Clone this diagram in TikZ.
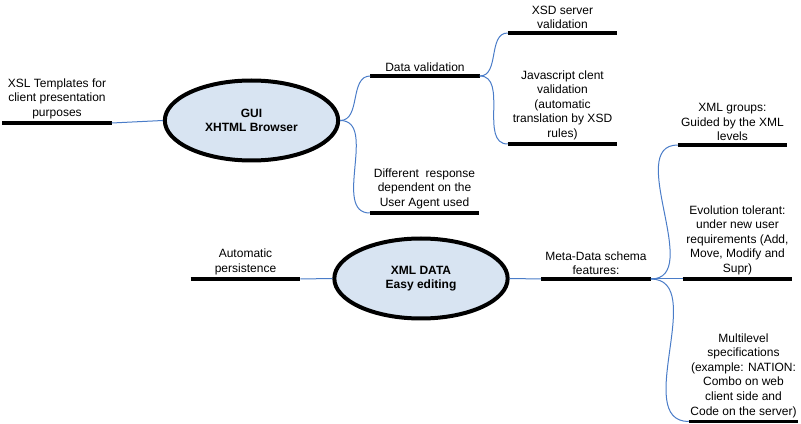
\documentclass[tikz,border=0pt]{standalone}
\usepackage{fontspec}
\setmainfont{Liberation Sans}
\usepackage{tikz}
\usetikzlibrary{shapes.geometric}

\definecolor{linkblue}{RGB}{74,124,200}
\definecolor{ovalfill}{RGB}{216,228,242}

\begin{document}
\begin{tikzpicture}[x=0.75pt,y=0.75pt,yscale=-1,xscale=1,
    topic/.style={anchor=south,minimum width=81.75pt,inner xsep=0pt,inner ysep=2.8pt,align=center,font=\fontsize{9}{10.9}\selectfont},
    bar/.style={line width=2.7pt},
    link/.style={color=linkblue,line width=0.75},
    oval/.style={ellipse,draw,line width=3pt,fill=ovalfill,minimum width=130pt,minimum height=60pt,align=center,font=\fontsize{9}{10.9}\selectfont\bfseries}]
        \useasboundingbox (0,0) rectangle (801,424);

        \node (gui) [oval] at (251.5,120.5) {GUI\\XHTML Browser};
        \node (xml) [oval] at (421,278.5) {XML DATA\\Easy editing};

        \node (xsl) [topic] at (57,123) {XSL Templates for\\client presentation\\purposes};
        \node (dval) [topic] at (425,76) {Data validation};
        \node (diff) [topic] at (424.5,213) {Different\ \ response\\dependent on the\\User Agent used};
        \node (xsd) [topic] at (562.5,33) {XSD server\\validation};
        \node (js) [topic] at (562.5,144) {Javascript clent\\validation\\(automatic\\translation by XSD\\rules)};
        \node (auto) [topic] at (245.5,279) {Automatic\\persistence};
        \node (meta) [topic] at (596,279) {Meta-Data schema\\features:};
        \node (groups) [topic] at (732.5,145) {XML groups:\\Guided by the XML\\levels};
        \node (evol) [topic] at (737.5,279) {Evolution tolerant:\\under new user\\requirements (Add,\\Move, Modify and\\Supr)};
        \node (multi) [topic] at (743.5,421.5) {Multilevel\\specifications\\(example: NATION:\\Combo on web\\client side and\\Code on the server)};

        \foreach \t in {xsl,dval,diff,xsd,js,auto,meta,groups,evol,multi}
            \draw [bar] (\t.south west) -- (\t.south east) ;

        \draw [link] (xsl.south east) -- (gui.west) ;
        \draw [link] (gui.east) to[out=0,in=180] (dval.south west) ;
        \draw [link] (gui.east) to[out=0,in=180] (diff.south west) ;
        \draw [link] (dval.south east) to[out=0,in=180] (xsd.south west) ;
        \draw [link] (dval.south east) to[out=0,in=180] (js.south west) ;
        \draw [link] (auto.south east) -- (xml.west) ;
        \draw [link] (xml.east) -- (meta.south west) ;
        \draw [link] (meta.south east) to[out=0,in=180] (groups.south west) ;
        \draw [link] (meta.south east) -- (evol.south west) ;
        \draw [link] (meta.south east) to[out=0,in=180] (multi.south west) ;
    \end{tikzpicture}
\end{document}
